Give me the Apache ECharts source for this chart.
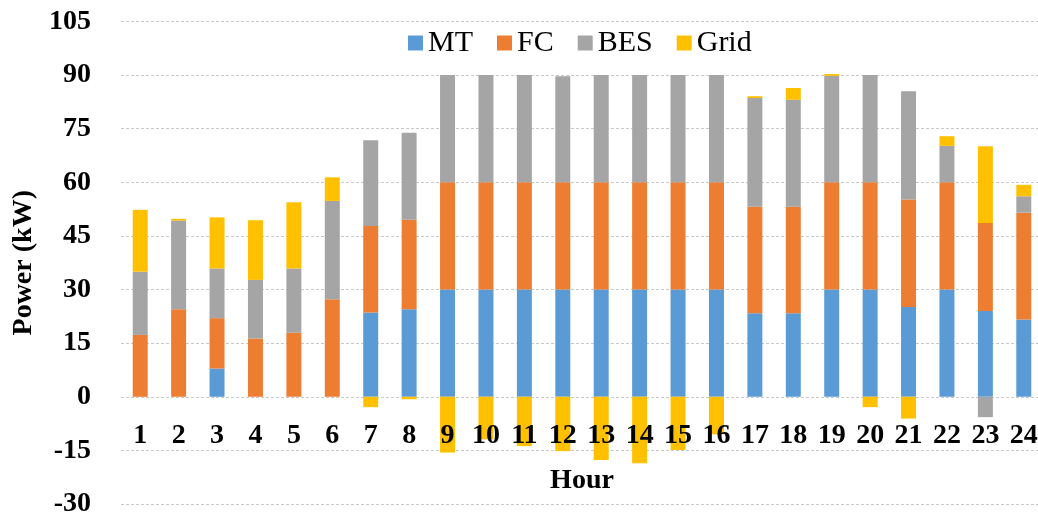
<!DOCTYPE html>
<html>
<head>
<meta charset="utf-8">
<script src="https://cdn.jsdelivr.net/npm/echarts@6/dist/echarts.min.js"></script>
<style>html,body{margin:0;padding:0;background:#fff}#c{width:1038px;height:519px}</style>
</head>
<body>
<div id="c"></div>
<script>
const hours = ['1','2','3','4','5','6','7','8','9','10','11','12','13','14','15','16','17','18','19','20','21','22','23','24'];
const mt   = [0, 0, 7.9, 0, 0, 0, 23.6, 24.5, 30, 30, 30, 30, 30, 30, 30, 30, 23.4, 23.4, 30, 30, 25.1, 30, 24.0, 21.6];
const fc   = [17.3, 24.5, 14.1, 16.3, 17.9, 27.3, 24.2, 25.0, 30, 30, 30, 30, 30, 30, 30, 30, 29.8, 29.8, 30, 30, 30.1, 30, 24.6, 29.9];
const bes  = [17.7, 24.8, 13.9, 16.4, 18.0, 27.5, 24.0, 24.4, 30, 30, 30, 29.7, 30, 30, 30, 30, 30.4, 29.9, 29.8, 30, 30.3, 10.2, -5.7, 4.6];
const grid = [17.3, 0.5, 14.3, 16.7, 18.5, 6.6, -2.9, -0.7, -15.6, -11.9, -13.8, -15.2, -17.7, -18.6, -14.9, -10.5, 0.5, 3.3, 0.5, -2.9, -6.1, 2.7, 21.5, 3.2];
const yTicks = {min: -30, max: 105, interval: 15};

const font = '"Liberation Serif", "Times New Roman", serif';
const chart = echarts.init(document.getElementById('c'), null, {renderer: 'canvas'});
const gridTop = 21.5, gridHeight = 482.5;
// offset so the category axis sits on the zero line
const zeroOffset = -gridHeight * (0 - yTicks.min) / (yTicks.max - yTicks.min);
function s(name, data, color) {
  return {name, type: 'bar', stack: 'total', data, barWidth: '39%', z: 2,
    itemStyle: {color}, emphasis: {disabled: true}};
}
chart.setOption({
  animation: false,
  textStyle: {fontFamily: font},
  legend: {
    left: 403, top: 23, itemWidth: 15, itemHeight: 15, itemGap: 24,
    icon: 'rect',
    textStyle: {fontFamily: font, fontSize: 30, color: '#000'},
    data: ['MT', 'FC', 'BES', 'Grid']
  },
  grid: {left: 121, top: gridTop, width: 922, height: gridHeight, containLabel: false, outerBoundsMode: 'none'},
  xAxis: {
    type: 'category', data: hours, offset: zeroOffset, z: 10,
    name: 'Hour', nameLocation: 'middle', nameGap: 70,
    nameTextStyle: {fontFamily: font, fontSize: 28, fontWeight: 'bold', color: '#000'},
    axisTick: {show: false},
    axisLine: {show: false, onZero: false},
    axisLabel: {interval: 0, hideOverlap: false, margin: 25, fontFamily: font, fontSize: 28, fontWeight: 'bold', color: '#000'}
  },
  yAxis: {
    type: 'value', min: yTicks.min, max: yTicks.max, interval: yTicks.interval, z: 0,
    name: 'Power (kW)', nameLocation: 'middle', nameGap: 73,
    nameTextStyle: {fontFamily: font, fontSize: 28, fontWeight: 'bold', color: '#000'},
    axisLine: {show: false}, axisTick: {show: false},
    axisLabel: {margin: 30, fontFamily: font, fontSize: 28, fontWeight: 'bold', color: '#000'},
    splitLine: {lineStyle: {color: '#c8c8c8', width: 1, type: [3, 2]}}
  },
  series: [
    s('MT', mt, '#5B9BD5'),
    s('FC', fc, '#ED7D31'),
    s('BES', bes, '#A5A5A5'),
    s('Grid', grid, '#FFC000')
  ]
});
</script>
</body>
</html>
